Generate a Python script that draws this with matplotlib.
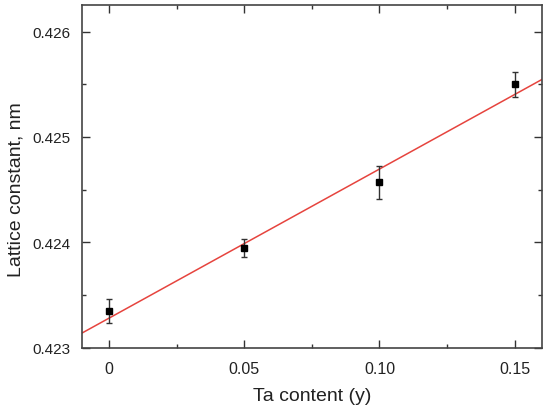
import numpy as np
import matplotlib
matplotlib.use("Agg")
import matplotlib.pyplot as plt
from matplotlib.ticker import MultipleLocator

plt.rcParams['font.family'] = ['Liberation Sans', 'DejaVu Sans']

ta_content = [0.0, 0.05, 0.10, 0.15]
lattice = [0.42335, 0.42395, 0.42457, 0.42550]
lattice_err = [0.00011, 0.000087, 0.000155, 0.00012]
x_ticks = [0.0, 0.05, 0.10, 0.15]
x_tick_labels = ["0", "0.05", "0.10", "0.15"]
y_ticks = [0.423, 0.424, 0.425, 0.426]
y_tick_labels = ["0.423", "0.424", "0.425", "0.426"]

fig = plt.figure(figsize=(5.5, 4.1), dpi=100)
ax = fig.add_axes([0.149, 0.149, 0.836, 0.836])

slope, intercept = np.polyfit(ta_content, lattice, 1)
xl = np.array([-0.01, 0.16])
ax.plot(xl, slope * xl + intercept, color='#e6443e', lw=1.1, zorder=2)

ax.errorbar(ta_content, lattice, yerr=lattice_err, fmt='s', color='black',
            markersize=5, ecolor='#333333', elinewidth=1.0, capsize=2.5,
            capthick=1.0, zorder=3)

ax.set_xlim(-0.01, 0.16)
ax.set_ylim(0.423, 0.42625)
ax.set_xticks(x_ticks)
ax.set_xticklabels(x_tick_labels)
ax.set_yticks(y_ticks)
ax.set_yticklabels(y_tick_labels)
ax.xaxis.set_minor_locator(MultipleLocator(0.025))
ax.yaxis.set_minor_locator(MultipleLocator(0.0005))

ax.tick_params(which='both', direction='in', top=True, right=True,
               colors='#333333', labelcolor='#222222', width=1.0)
ax.tick_params(which='major', length=6)
ax.tick_params(which='minor', length=3)
ax.tick_params(axis='x', which='major', labelsize=11.5, pad=9.5)
ax.tick_params(axis='y', which='major', labelsize=11, pad=8)
for s in ax.spines.values():
    s.set_color('#444444')
    s.set_linewidth(1.2)

ax.set_xlabel('Ta content (y)', fontsize=14, color='#222222')
ax.set_ylabel('Lattice constant, nm', fontsize=14, color='#222222')
ax.xaxis.set_label_coords(0.5, -0.115)
ax.yaxis.set_label_coords(-0.124, 0.4636)

fig.savefig('out.png', dpi=100)
